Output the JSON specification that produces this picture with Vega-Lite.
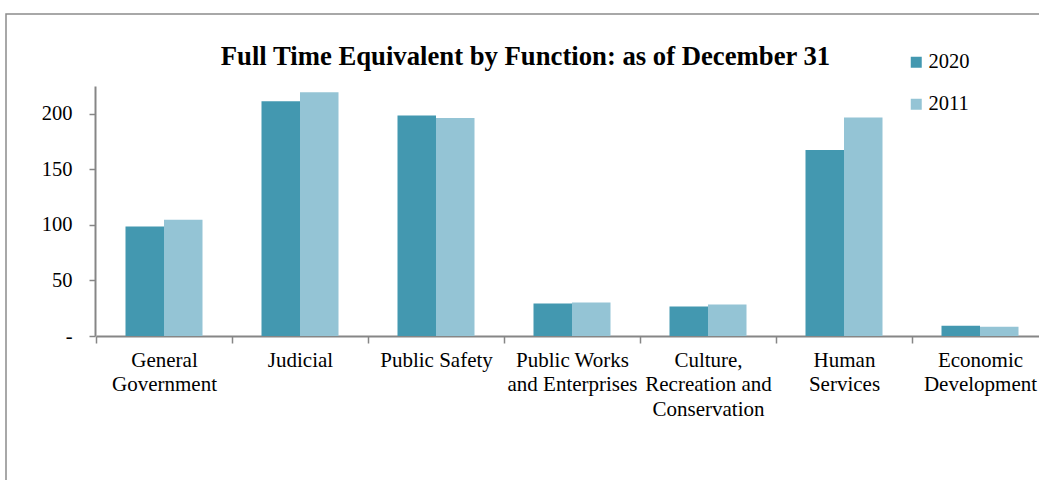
{
  "$schema": "https://vega.github.io/schema/vega-lite/v6.json",
  "width": 1045,
  "height": 470,
  "autosize": "none",
  "padding": {"left": 6, "top": 14, "right": 0, "bottom": 0},
  "background": "white",
  "config": {
    "view": {"stroke": "#8c8c8c", "strokeWidth": 1.5},
    "font": "Liberation Serif"
  },
  "title": {
    "text": "Full Time Equivalent by Function: as of December 31",
    "font": "Liberation Serif",
    "fontSize": 26.7,
    "fontWeight": "bold",
    "color": "#000000",
    "anchor": "middle",
    "baseline": "alphabetic",
    "dx": -3,
    "offset": -78
  },
  "data": {
    "values": [
      {"function": "General Government", "year": "2020", "fte": 98.6},
      {"function": "General Government", "year": "2011", "fte": 104.6},
      {"function": "Judicial", "year": "2020", "fte": 211.2},
      {"function": "Judicial", "year": "2011", "fte": 219.3},
      {"function": "Public Safety", "year": "2020", "fte": 198.4},
      {"function": "Public Safety", "year": "2011", "fte": 196.3},
      {"function": "Public Works and Enterprises", "year": "2020", "fte": 29.3},
      {"function": "Public Works and Enterprises", "year": "2011", "fte": 30.2},
      {"function": "Culture, Recreation and Conservation", "year": "2020", "fte": 26.6},
      {"function": "Culture, Recreation and Conservation", "year": "2011", "fte": 28.4},
      {"function": "Human Services", "year": "2020", "fte": 167.5},
      {"function": "Human Services", "year": "2011", "fte": 196.6},
      {"function": "Economic Development", "year": "2020", "fte": 9.3},
      {"function": "Economic Development", "year": "2011", "fte": 8.4}
    ]
  },
  "mark": {"type": "bar"},
  "encoding": {
    "x": {
      "field": "function",
      "type": "nominal",
      "sort": null,
      "scale": {"range": [90, 1042], "paddingInner": 0, "paddingOuter": 0},
      "axis": {
        "title": null,
        "offset": -148,
        "labelAngle": 0,
        "labelFont": "Liberation Serif",
        "labelFontSize": 21,
        "labelColor": "#000000",
        "labelLineHeight": 24.5,
        "labelPadding": 6,
        "labelLimit": 0,
        "labelOverlap": false,
        "labelExpr": "datum.value == 'General Government' ? ['General', 'Government'] : datum.value == 'Public Works and Enterprises' ? ['Public Works', 'and Enterprises'] : datum.value == 'Culture, Recreation and Conservation' ? ['Culture,', 'Recreation and', 'Conservation'] : datum.value == 'Human Services' ? ['Human', 'Services'] : datum.value == 'Economic Development' ? ['Economic', 'Development'] : datum.value",
        "tickBand": "extent",
        "tickSize": 7,
        "tickColor": "#868686",
        "tickWidth": 1.5,
        "domainColor": "#868686",
        "domainWidth": 2,
        "grid": false
      }
    },
    "xOffset": {
      "field": "year",
      "type": "nominal",
      "sort": ["2020", "2011"],
      "scale": {"paddingInner": 0, "paddingOuter": 0.766}
    },
    "y": {
      "field": "fte",
      "type": "quantitative",
      "scale": {"domain": [0, 225], "range": [322, 72], "nice": false, "zero": true},
      "axis": {
        "title": null,
        "offset": -89,
        "values": [0, 50, 100, 150, 200],
        "labelExpr": "datum.value == 0 ? '-' : datum.label",
        "labelFont": "Liberation Serif",
        "labelFontSize": 20.5,
        "labelColor": "#000000",
        "labelPadding": 17,
        "tickSize": 6,
        "tickColor": "#868686",
        "tickWidth": 1.5,
        "domainColor": "#868686",
        "domainWidth": 2,
        "grid": false
      }
    },
    "color": {
      "field": "year",
      "type": "nominal",
      "scale": {"domain": ["2020", "2011"], "range": ["#4398B0", "#94C4D5"]},
      "legend": {
        "title": null,
        "orient": "none",
        "legendX": 900,
        "legendY": 38,
        "padding": 0,
        "symbolType": "square",
        "symbolSize": 121,
        "symbolStrokeWidth": 0,
        "labelFont": "Liberation Serif",
        "labelFontSize": 20.5,
        "labelColor": "#000000",
        "labelOffset": 2,
        "rowPadding": 21
      }
    }
  }
}
